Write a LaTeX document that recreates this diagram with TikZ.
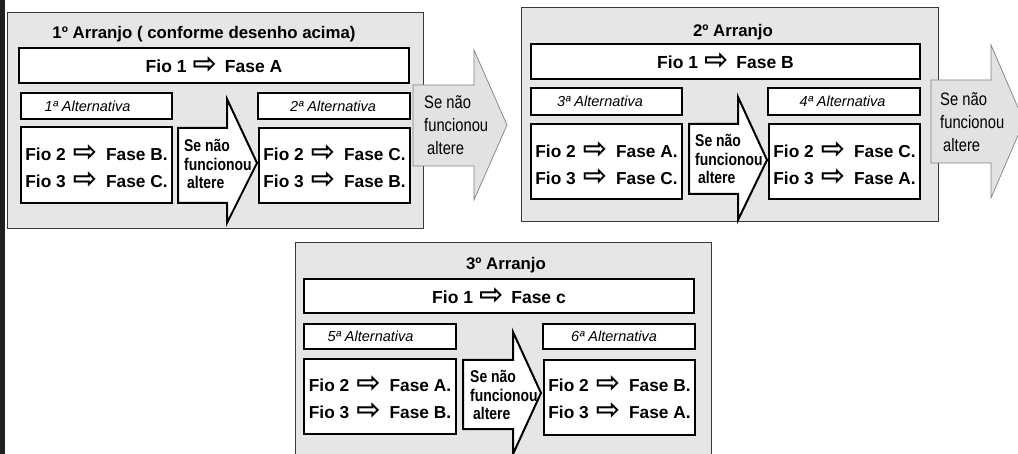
\documentclass[tikz,border=0pt]{standalone}
\usepackage{fontspec}
\setmainfont{Liberation Sans}
\newfontfamily\symfont{DejaVu Sans}
\newfontfamily\narrowfont[FakeStretch=0.82]{Liberation Sans}
\definecolor{panelfill}{HTML}{E6E6E6}
\definecolor{panelline}{HTML}{3A3A3A}
\definecolor{arrowfill}{HTML}{E2E2E2}
\definecolor{arrowline}{HTML}{808080}
\definecolor{barcol}{HTML}{231F20}
\newcommand\arw{{\symfont\fontsize{29}{29}\selectfont\raisebox{-1pt}{⇨}}}
\newcommand\pairtext[2]{Fio 2\hspace{7pt}\arw\hspace{9pt}#1\\Fio 3\hspace{7pt}\arw\hspace{9pt}#2}
\newcommand\rbox[6]{\node[#1, minimum width={#5-#3}, minimum height={#6-#4}, inner sep=0pt, outer sep=0pt] (#2) at ({(#3+#5)/2},{(#4+#6)/2}) {};}
\tikzset{
  panel/.style={draw=panelline, fill=panelfill, line width=0.9pt},
  bigbox/.style={draw=black, fill=white, line width=2pt},
  altbox/.style={draw=black, fill=white, line width=1.5pt},
  blackarrow/.style={draw=black, fill=white, line width=2pt, line join=miter},
  grayarrow/.style={draw=arrowline, fill=arrowfill, line width=0.7pt, line join=miter},
  titletext/.style={font=\fontsize{16.8}{18}\selectfont\bfseries, inner sep=0pt},
  fioone/.style={font=\fontsize{17.5}{20}\selectfont\bfseries, inner sep=0pt},
  alttext/.style={font=\fontsize{14.5}{16}\selectfont\itshape, inner sep=0pt},
  pairnode/.style={font=\fontsize{17.3}{27}\selectfont\bfseries, align=left, inner sep=0pt},
  setext/.style={font=\narrowfont\fontsize{17}{18.5}\selectfont\bfseries, align=left, anchor=west, inner sep=0pt},
  segray/.style={font=\narrowfont\fontsize{18}{23}\selectfont, align=left, anchor=west, inner sep=0pt}
}
\begin{document}
\begin{tikzpicture}[x=1pt,y=-1pt]
\useasboundingbox (0,0) rectangle (1018,454);
\clip (0,0) rectangle (1018,454);
\fill[barcol] (0,0) rectangle (5,454);

% ---------- Panel 1 ----------
\rbox{panel}{p1}{7}{12}{423}{228}
\node[titletext] (t1) at (204,34) {1º Arranjo ( conforme desenho acima)};
\rbox{bigbox}{f1}{19}{48}{409}{83}
\node[fioone] (f1t) at (f1) {Fio 1\hspace{6pt}\arw\hspace{8pt}Fase A};
\rbox{altbox}{a1}{21}{93}{172}{119}
\node[alttext] (a1t) at (87.5,106) {1ª Alternativa};
\rbox{altbox}{a2}{258}{93}{410}{119}
\node[alttext] (a2t) at (333,106) {2ª Alternativa};
\rbox{bigbox}{l1}{21}{127}{172}{203}
\node[pairnode] (l1t) at (96.5,166.5) {\pairtext{Fase B.}{Fase C.}};
\rbox{bigbox}{r1}{259}{128}{410}{203}
\node[pairnode] (r1t) at (334.5,166.5) {\pairtext{Fase C.}{Fase B.}};
\draw[blackarrow] (178,128) -- (227,128) -- (227,99) -- (257,163) -- (227,223) -- (227,203) -- (178,203) -- cycle;
\node[setext] (s1) at (184,164) {Se não\\funcionou\\\hspace{3pt}altere};

% ---------- Panel 2 ----------
\rbox{panel}{p2}{521}{7}{938}{221}
\node[titletext] (t2) at (733,32) {2º Arranjo};
\rbox{bigbox}{f2}{531}{44}{920}{79}
\node[fioone] (f2t) at (f2) {Fio 1\hspace{6pt}\arw\hspace{8pt}Fase B};
\rbox{altbox}{a3}{531}{88}{682}{115}
\node[alttext] (a3t) at (600,101.5) {3ª Alternativa};
\rbox{altbox}{a4}{768}{88}{920}{115}
\node[alttext] (a4t) at (842.5,101.5) {4ª Alternativa};
\rbox{bigbox}{l2}{531}{124}{682}{199}
\node[pairnode] (l2t) at (606.5,164) {\pairtext{Fase A.}{Fase C.}};
\rbox{bigbox}{r2}{769}{124}{920}{199}
\node[pairnode] (r2t) at (844.5,164) {\pairtext{Fase C.}{Fase A.}};
\draw[blackarrow] (689,124) -- (738,124) -- (738,97) -- (767,160) -- (738,220) -- (738,194) -- (689,194) -- cycle;
\node[setext] (s2) at (695,159) {Se não\\funcionou\\\hspace{3pt}altere};

% ---------- Panel 3 ----------
\rbox{panel}{p3}{295}{242}{711}{480}
\node[titletext] (t3) at (506,265) {3º Arranjo};
\rbox{bigbox}{f3}{304}{279}{694}{313}
\node[fioone] (f3t) at (f3) {Fio 1\hspace{6pt}\arw\hspace{8pt}Fase c};
\rbox{altbox}{a5}{304}{324}{456}{349}
\node[alttext] (a5t) at (370.5,336.5) {5ª Alternativa};
\rbox{altbox}{a6}{543}{324}{695}{349}
\node[alttext] (a6t) at (614,336.5) {6ª Alternativa};
\rbox{bigbox}{l3}{304}{359}{456}{434}
\node[pairnode] (l3t) at (380,398) {\pairtext{Fase A.}{Fase B.}};
\rbox{bigbox}{r3}{544}{360}{695}{435}
\node[pairnode] (r3t) at (619.5,398) {\pairtext{Fase B.}{Fase A.}};
\draw[blackarrow] (463,360) -- (513,360) -- (513,332) -- (541,393) -- (513,454) -- (513,429) -- (463,429) -- cycle;
\node[setext] (s3) at (470,395) {Se não\\funcionou\\\hspace{3pt}altere};

% ---------- Gray arrows between panels ----------
\draw[grayarrow] (413,85) -- (474,85) -- (474,50) -- (507,125) -- (474,200) -- (474,166) -- (413,166) -- cycle;
\node[segray] (g1t) at (424,125) {Se não\\funcionou\\\hspace{3pt}altere};
\draw[grayarrow] (931,80) -- (991,80) -- (991,45) -- (1024,121.5) -- (991,198) -- (991,163) -- (931,163) -- cycle;
\node[segray] (g2t) at (940,122) {Se não\\funcionou\\\hspace{3pt}altere};
\end{tikzpicture}
\end{document}
